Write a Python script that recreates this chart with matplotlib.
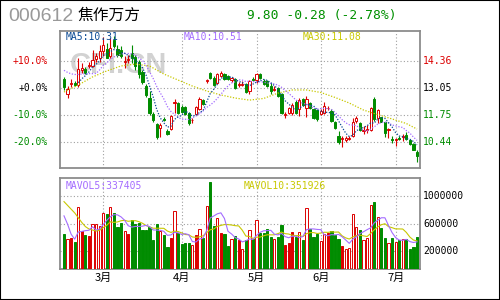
import matplotlib
matplotlib.use('Agg')
import matplotlib.pyplot as plt
from matplotlib.patches import Rectangle
import numpy as np
import pandas as pd

# header
code = '000612'
name = '焦作万方'
quote = '9.80 -0.28 (-2.78%)'

# daily candles
opens = [13.50, 12.78, 13.26, 13.31, 13.21, 13.94, 13.98, 14.15, 14.13, 14.47,
         14.52, 14.85, 14.95, 14.61, 15.38, 14.95, 14.90, 14.32, 14.42, 14.76,
         14.56, 14.32, 13.84, 13.16, 12.58, 11.81, 11.33, 11.13, 11.59, 10.99,
         11.08, 12.34, 12.34, 12.15, 12.15, 11.86, 11.50, 11.81, 12.05, 12.49,
         13.38, 13.79, 13.55, 13.31, 13.65, 13.74, 13.65, 13.45, 13.50, 13.23,
         13.23, 13.26, 12.92, 13.50, 13.45, 13.74, 13.40, 13.40, 13.16, 12.99,
         13.07, 12.78, 11.78, 11.86, 11.86, 12.39, 12.05, 12.53, 12.10, 12.34,
         12.05, 12.00, 11.81, 11.86, 12.08, 11.95, 11.42, 10.75, 10.62, 10.55,
         10.60, 10.75, 11.47, 11.37, 11.01, 11.04, 11.04, 12.53, 11.62, 11.66,
         11.42, 11.04, 10.60, 10.55, 10.67, 10.70, 10.79, 10.55, 10.36, 9.97]
closes = [13.09, 13.02, 13.31, 13.21, 13.98, 14.03, 13.79, 14.20, 14.42, 14.61,
          14.85, 15.14, 14.52, 15.00, 15.09, 14.66, 14.61, 14.37, 14.47, 14.52,
          14.13, 13.74, 13.36, 12.73, 11.86, 11.52, 10.70, 11.28, 11.54, 10.84,
          11.71, 12.39, 11.86, 11.91, 11.81, 11.37, 11.54, 12.15, 12.53, 12.29,
          13.43, 13.55, 13.21, 13.74, 13.79, 13.50, 13.50, 13.55, 13.07, 13.28,
          13.28, 12.87, 13.40, 13.45, 13.74, 13.55, 13.26, 13.16, 12.90, 13.02,
          12.68, 11.86, 11.81, 12.10, 12.24, 11.86, 12.49, 12.24, 12.53, 12.10,
          11.62, 11.57, 11.95, 12.20, 12.12, 11.47, 11.13, 10.48, 10.67, 10.67,
          10.65, 11.42, 11.62, 11.04, 11.06, 11.08, 12.10, 11.57, 12.00, 11.42,
          10.89, 11.08, 10.55, 10.60, 10.62, 10.75, 10.60, 10.36, 10.08, 9.80]
highs = [13.60, 13.16, 13.50, 13.40, 14.52, 14.27, 14.08, 14.32, 14.90, 14.76,
         15.14, 15.53, 15.24, 15.48, 15.58, 15.14, 15.09, 14.61, 14.66, 15.14,
         14.66, 14.42, 13.94, 13.26, 12.92, 11.91, 11.37, 11.37, 11.66, 11.08,
         11.76, 12.53, 12.39, 12.24, 12.20, 11.91, 11.62, 12.20, 12.63, 12.53,
         13.50, 13.84, 13.65, 13.79, 13.89, 13.79, 13.69, 13.60, 13.55, 13.36,
         13.40, 13.31, 13.45, 13.60, 13.79, 13.79, 13.50, 13.45, 13.31, 13.16,
         13.11, 12.82, 11.91, 12.15, 12.34, 12.49, 12.58, 12.58, 12.68, 12.39,
         12.10, 12.05, 12.05, 12.39, 12.20, 12.05, 11.47, 10.99, 10.75, 10.75,
         10.75, 11.62, 11.71, 11.42, 11.23, 11.28, 12.15, 12.63, 12.05, 11.66,
         11.42, 11.13, 10.75, 10.65, 10.75, 10.84, 10.94, 10.60, 10.41, 10.07]
lows = [12.97, 12.58, 13.11, 13.16, 13.11, 13.79, 13.74, 14.03, 14.08, 14.32,
        14.32, 14.61, 14.52, 14.52, 15.00, 14.56, 14.52, 14.03, 14.27, 14.27,
        13.94, 13.55, 13.26, 12.63, 11.76, 11.42, 10.60, 10.70, 11.47, 10.79,
        11.04, 11.86, 11.81, 11.86, 11.76, 11.28, 11.37, 11.76, 12.00, 12.24,
        13.31, 13.50, 13.16, 13.26, 13.60, 13.45, 13.45, 13.36, 13.02, 13.11,
        13.16, 12.82, 12.78, 13.40, 13.31, 13.50, 13.21, 13.11, 12.78, 12.92,
        12.63, 11.81, 11.62, 11.81, 11.76, 11.81, 11.71, 12.20, 11.66, 12.05,
        11.57, 11.47, 11.76, 11.81, 12.00, 11.42, 11.08, 10.36, 10.22, 10.46,
        10.55, 10.70, 11.37, 10.99, 10.84, 10.89, 10.99, 11.47, 11.37, 11.42,
        10.70, 10.65, 10.41, 10.26, 10.55, 10.50, 10.55, 10.31, 10.07, 9.49]
volumes = [453000, 376000, 395000, 336000, 845000, 493000, 434000, 424000, 596000, 596000,
           571000, 757000, 742000, 845000, 757000, 556000, 610000, 493000, 449000, 654000,
           605000, 610000, 512000, 512000, 556000, 366000, 600000, 493000, 439000, 263000,
           395000, 790000, 464000, 311000, 321000, 321000, 288000, 434000, 522000, 400000,
           864000, 1215000, 571000, 683000, 473000, 449000, 278000, 376000, 424000, 366000,
           238000, 361000, 512000, 385000, 659000, 464000, 473000, 522000, 410000, 376000,
           410000, 585000, 288000, 326000, 483000, 414000, 483000, 366000, 834000, 531000,
           414000, 449000, 351000, 449000, 464000, 497000, 434000, 385000, 278000, 229000,
           248000, 742000, 556000, 512000, 366000, 400000, 874000, 922000, 703000, 546000,
           400000, 317000, 400000, 336000, 361000, 385000, 385000, 238000, 268000, 410000]
# red volume bars drawn filled instead of hollow
solid_red = [2, 5, 7, 18, 30, 37, 44, 49, 62, 63, 64, 74, 78]

# moving averages that need history from before the window
ma10_head = [13.92, 13.82, 13.75, 13.72, 13.72, 13.74, 13.76, 13.76, 13.76]
ma30_idx = [0, 4, 8, 12, 16, 20, 24, 28, 32, 36, 40, 44, 48, 52, 56, 60, 64, 68,
            72, 76, 80, 84, 88, 92, 96, 99]
ma30_val = [12.87, 13.21, 13.60, 13.89, 14.13, 14.22, 14.13, 13.74, 13.45, 13.16,
            12.92, 12.73, 12.58, 12.48, 12.56, 12.82, 12.97, 12.97, 12.85, 12.61,
            12.34, 12.00, 11.78, 11.57, 11.35, 11.08]
mavol5_head = [717000, 596000, 449000, 376000]
mavol10_head = [925000, 870000, 815000, 760000, 690000, 620000, 560000, 525000, 510000]

ma_labels = ['MA5:10.31', 'MA10:10.51', 'MA30:11.08']
vol_labels = ['MAVOL5:337405', 'MAVOL10:351926']

base_price = 13.05
pct_ticks = [10, 0, -10, -20]
vol_ticks = [1000000, 600000, 200000]
month_idx = [11, 33, 54, 72, 93]
month_labels = ['3月', '4月', '5月', '6月', '7月']

RED = '#dc0000'
GREEN = '#008c00'
C_MA5 = '#0b4a94'
C_MA10 = '#a46cff'
C_MA30 = '#c8c800'
GRID = '#a0a0a0'
FRAME = '#8c8c8c'
MONO = 'DejaVu Sans Mono'

x = np.arange(len(closes))
o = np.array(opens); c = np.array(closes)
h = np.array(highs); l = np.array(lows)
v = np.array(volumes)
up = c >= o

cl = pd.Series(closes)
ma5 = cl.rolling(5).mean()
ma10 = cl.rolling(10).mean()
ma10.iloc[:9] = ma10_head
vs = pd.Series(volumes, dtype=float)
mavol5 = vs.rolling(5).mean()
mavol5.iloc[:4] = mavol5_head
mavol10 = vs.rolling(10).mean()
mavol10.iloc[:9] = mavol10_head

fig = plt.figure(figsize=(5, 3), dpi=100)
fig.patch.set_facecolor('white')
ax = fig.add_axes([0.12, 0.44, 0.72, 0.4567])
axv = fig.add_axes([0.12, 0.1033, 0.72, 0.3033])

xlim = (-1.12, len(x) - 1 + 0.84)
for a in (ax, axv):
    a.set_xlim(*xlim)
    a.set_xticks([]); a.set_yticks([])
    for s in a.spines.values():
        s.set_color(FRAME)
        s.set_linewidth(1.3)
    for m in month_idx:
        a.axvline(m, color=GRID, lw=0.8, ls=(0, (1, 2)), zorder=1)

# ---- price panel ----
ax.set_ylim(9.20, 15.82)
pct_prices = [base_price * (1 + p / 100) for p in pct_ticks]
for p in pct_prices:
    ax.axhline(p, color=GRID, lw=0.8, ls=(0, (1, 2)), zorder=1)

ax.text(0.161, 0.752, 'CFI.CN', transform=ax.transAxes, fontsize=21,
        fontweight='bold', family='Liberation Sans', color='#d2d2d2',
        ha='center', va='center', zorder=0.5)

bw = 0.62
colors = np.where(up, RED, GREEN)
ax.vlines(x, l, h, colors=colors, lw=0.8, zorder=3)
bottoms = np.minimum(o, c)
heights = np.abs(c - o)
ax.bar(x[up], heights[up], bw, bottom=bottoms[up], facecolor='white',
       edgecolor=RED, lw=0.7, zorder=4)
ax.bar(x[~up], heights[~up], bw, bottom=bottoms[~up], facecolor=GREEN,
       edgecolor=GREEN, lw=0.7, zorder=4)

dot = (0, (1, 1.3))
ax.plot(ma30_idx, ma30_val, color=C_MA30, lw=0.9, ls=dot, zorder=5)
ax.plot(x, ma10, color=C_MA10, lw=0.9, ls=dot, zorder=5)
ax.plot(x, ma5, color=C_MA5, lw=0.9, ls=dot, zorder=5)

for txt, xa, col in zip(ma_labels, [0.0167, 0.344, 0.675], [C_MA5, C_MA10, C_MA30]):
    ax.text(xa, 0.9526, txt, transform=ax.transAxes, fontsize=7, family=MONO,
            color=col, ha='left', va='center', zorder=6)

pct_cols = [RED, 'black', GREEN, GREEN]
for p, pc, col in zip(pct_ticks, pct_prices, pct_cols):
    ax.text(-0.034, pc, '%+.1f%%' % p, transform=ax.get_yaxis_transform(),
            fontsize=7, family=MONO, color=col, ha='right', va='center')
    ax.text(1.0083, pc, '%.2f' % pc, transform=ax.get_yaxis_transform(),
            fontsize=7, family=MONO, color=col, ha='left', va='center')

# ---- volume panel ----
vfloor = -60000
axv.set_ylim(vfloor, 1270000)
for t in vol_ticks:
    axv.axhline(t, color=GRID, lw=0.8, ls=(0, (1, 2)), zorder=1)
    axv.text(1.0083, t, str(t), transform=axv.get_yaxis_transform(),
             fontsize=7, family=MONO, color='black', ha='left', va='center')

solid = np.zeros(len(x), bool)
solid[solid_red] = True
hollow = up & ~solid
filled_red = up & solid
axv.bar(x[hollow], v[hollow] - vfloor, bw, bottom=vfloor, facecolor='white',
        edgecolor=RED, lw=0.7, zorder=3)
axv.bar(x[filled_red], v[filled_red] - vfloor, bw, bottom=vfloor,
        facecolor=RED, edgecolor=RED, lw=0.7, zorder=3)
axv.bar(x[~up], v[~up] - vfloor, bw, bottom=vfloor, facecolor=GREEN,
        edgecolor=GREEN, lw=0.7, zorder=3)
axv.plot(x, mavol10, color=C_MA30, lw=0.8, zorder=4)
axv.plot(x, mavol5, color=C_MA10, lw=0.8, zorder=4)

axv.text(0.0167, 0.915, vol_labels[0], transform=axv.transAxes, fontsize=7,
         family=MONO, color=C_MA10, ha='left', va='center', zorder=6)
axv.text(0.509, 0.915, vol_labels[1], transform=axv.transAxes, fontsize=7,
         family=MONO, color=C_MA30, ha='left', va='center', zorder=6)

for m, lab in zip(month_idx, month_labels):
    axv.text(m, -0.096, lab, transform=axv.get_xaxis_transform(), fontsize=8,
             family=['Noto Sans CJK SC', 'DejaVu Sans'], color='black',
             ha='center', va='center')

# ---- header ----
fig.text(8 / 500, 1 - 16.5 / 300, code, fontsize=14, family='Liberation Sans',
         color='#999999', ha='left', va='center')
fig.text(77 / 500, 1 - 15.5 / 300, name, fontsize=11.3,
         family=['Noto Sans CJK SC', 'DejaVu Sans'], color='black',
         ha='left', va='center')
fig.text(247 / 500, 1 - 15 / 300, quote, fontsize=9.4, family=MONO,
         color='#009000', ha='left', va='center')

fig.patches.append(Rectangle((0, 0), 1, 1, transform=fig.transFigure,
                             fill=False, edgecolor='black', lw=1.5))

fig.savefig('out.png', dpi=100)
